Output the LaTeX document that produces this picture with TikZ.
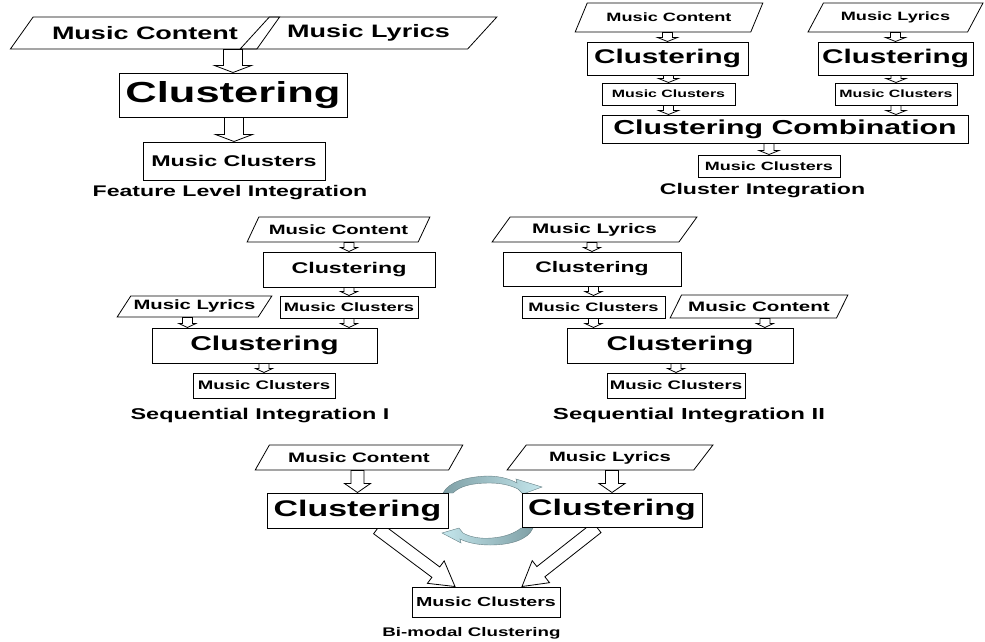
\documentclass[tikz,border=0pt]{standalone}
\usepackage{fontspec}
\setmainfont{Liberation Sans}[FakeStretch=1.5]
\usetikzlibrary{shapes.geometric,calc,backgrounds}
\definecolor{cycdark}{HTML}{7FA0A6}
\definecolor{cyclight}{HTML}{C4E6EC}
\tikzset{
  txt/.style={font=\fontsize{#1}{#1}\selectfont\bfseries},
  box/.style={draw, rectangle, fill=white, inner sep=0pt, line width=1pt},
  inp/.style={draw, trapezium, trapezium left angle=44, trapezium right angle=136,
    trapezium stretches=true, inner sep=0pt, line width=0.8pt},
  capt/.style={inner sep=0pt}
}
\newcommand{\blockarrow}[5]{%
  \coordinate (ba-s) at (#1);
  \coordinate (ba-e) at (#2);
  \coordinate (ba-h) at ($(ba-e)!#5!(ba-s)$);
  \draw[fill=white, line width=0.8pt]
    ($(ba-s)!#3!90:(ba-e)$) -- ($(ba-h)!#3!90:(ba-e)$) -- ($(ba-h)!#4!90:(ba-e)$)
    -- (ba-e) -- ($(ba-h)!#4!-90:(ba-e)$) -- ($(ba-h)!#3!-90:(ba-e)$)
    -- ($(ba-s)!#3!-90:(ba-e)$) -- cycle;}

\begin{document}
\begin{tikzpicture}[x=1pt, y=-1pt]
\useasboundingbox (0,0) rectangle (985,641);

\node[inp, trapezium left angle=35, trapezium right angle=145, minimum width=270pt, minimum height=32pt, txt=18] (con1) at (145,33) {Music Content};
\node[inp, trapezium left angle=35, trapezium right angle=145, minimum width=257pt, minimum height=32pt, txt=18] (lyr1) at (368.5,33) {Music Lyrics};
\node[box, minimum width=228pt, minimum height=44pt, txt=29] (cl1) at (233,95) {Clustering};
\node[box, minimum width=182pt, minimum height=38pt, txt=15.5] (mc1) at (234,161) {Music Clusters};
\node[capt, txt=15.4] (cap1) at (230,193) {Feature Level Integration};
\blockarrow{con1.south -| cl1.north}{cl1.north}{9.5pt}{18.5pt}{7pt}
\blockarrow{cl1.south -| mc1.north}{mc1.north}{9.5pt}{18.5pt}{7pt}

\node[inp, minimum width=188pt, minimum height=29pt, txt=12.1] (conA) at (669,17.5) {Music Content};
\node[inp, minimum width=175pt, minimum height=29pt, txt=12.1] (lyrB) at (895.5,17.5) {Music Lyrics};
\node[box, minimum width=161pt, minimum height=33pt, txt=19.8] (clA) at (667.5,58.5) {Clustering};
\node[box, minimum width=155pt, minimum height=33pt, txt=19.8] (clB) at (895.5,58.5) {Clustering};
\node[box, minimum width=133pt, minimum height=22pt, txt=10.6] (mcA) at (668.5,94) {Music Clusters};
\node[box, minimum width=122pt, minimum height=22pt, txt=10.6] (mcB) at (896,94) {Music Clusters};
\node[box, minimum width=366pt, minimum height=28pt, txt=20.2] (comb) at (785,129) {Clustering Combination};
\node[box, minimum width=142pt, minimum height=22pt, txt=12] (mcC) at (769,166) {Music Clusters};
\node[capt, txt=15.4] (cap2) at (762.5,191) {Cluster Integration};
\blockarrow{conA.south -| clA.north}{clA.north}{5pt}{10pt}{4pt}
\blockarrow{clA.south -| mcA.north}{mcA.north}{5pt}{10pt}{4pt}
\blockarrow{mcA.south}{mcA.south |- comb.north}{5pt}{10pt}{4pt}
\blockarrow{lyrB.south -| clB.north}{clB.north}{5pt}{10pt}{4pt}
\blockarrow{clB.south -| mcB.north}{mcB.north}{5pt}{10pt}{4pt}
\blockarrow{mcB.south}{mcB.south |- comb.north}{5pt}{10pt}{4pt}
\blockarrow{comb.south -| mcC.north}{mcC.north}{5pt}{10pt}{4pt}

\node[inp, minimum width=183pt, minimum height=25pt, txt=13.5] (conS) at (338.5,229.5) {Music Content};
\node[box, minimum width=172pt, minimum height=35pt, txt=15.5] (clS) at (349,269.5) {Clustering};
\node[box, minimum width=138pt, minimum height=22pt, txt=12.2] (mcS) at (349,307) {Music Clusters};
\node[inp, minimum width=155pt, minimum height=21pt, txt=13.5] (lyrS) at (194.5,306.5) {Music Lyrics};
\node[box, minimum width=225pt, minimum height=35pt, txt=20] (clT) at (264.5,345.5) {Clustering};
\node[box, minimum width=142pt, minimum height=25pt, txt=12.4] (mcT) at (264,385.5) {Music Clusters};
\node[capt, txt=15.6] (cap3) at (260,415) {Sequential Integration I};
\blockarrow{conS.south -| clS.north}{clS.north}{5pt}{8.5pt}{4pt}
\blockarrow{clS.south -| mcS.north}{mcS.north}{5pt}{8.5pt}{4pt}
\blockarrow{lyrS.south -| lyrS.bottom side}{lyrS.bottom side |- clT.north}{5pt}{8.5pt}{4pt}
\blockarrow{mcS.south}{mcS.south |- clT.north}{5pt}{8.5pt}{4pt}
\blockarrow{clT.south -| mcT.north}{mcT.north}{5pt}{8.5pt}{4pt}

\node[inp, minimum width=205pt, minimum height=25pt, txt=13.8] (lyrU) at (594.5,229.5) {Music Lyrics};
\node[box, minimum width=178pt, minimum height=34pt, txt=15.3] (clU) at (592,269) {Clustering};
\node[box, minimum width=143pt, minimum height=22pt, txt=12.2] (mcU) at (593.5,307) {Music Clusters};
\node[inp, minimum width=178pt, minimum height=23pt, txt=13.7] (conV) at (759,306.5) {Music Content};
\node[box, minimum width=226pt, minimum height=35pt, txt=19.8] (clV) at (680,345.5) {Clustering};
\node[box, minimum width=138pt, minimum height=25pt, txt=12.4] (mcV) at (676,385.5) {Music Clusters};
\node[capt, txt=16] (cap4) at (689,415) {Sequential Integration II};
\blockarrow{lyrU.south -| clU.north}{clU.north}{5pt}{8.5pt}{4pt}
\blockarrow{clU.south -| mcU.north}{mcU.north}{5pt}{8.5pt}{4pt}
\blockarrow{mcU.south}{mcU.south |- clV.north}{5pt}{8.5pt}{4pt}
\blockarrow{conV.south -| conV.top side}{conV.top side |- clV.north}{5pt}{8.5pt}{4pt}
\blockarrow{clV.south -| mcV.north}{mcV.north}{5pt}{8.5pt}{4pt}

\node[inp, trapezium left angle=42, trapezium right angle=138, minimum width=208pt, minimum height=25pt, txt=13.7] (conL) at (359,457.5) {Music Content};
\node[inp, trapezium left angle=42, trapezium right angle=138, minimum width=206pt, minimum height=25pt, txt=13.5] (lyrR) at (610,457.5) {Music Lyrics};
\node[box, minimum width=181pt, minimum height=35pt, txt=22.6] (clL) at (357.5,510.5) {Clustering};
\node[box, minimum width=180pt, minimum height=34pt, txt=22.6] (clR) at (612,510) {Clustering};
\node[box, minimum width=148pt, minimum height=30pt, txt=13.1] (mcM) at (486,602) {Music Clusters};
\node[capt, txt=12.5] (cap5) at (471.5,633) {Bi-modal Clustering};
\blockarrow{conL.south -| clL.north}{clL.north}{6.5pt}{13pt}{9pt}
\blockarrow{lyrR.south -| clR.north}{clR.north}{6.5pt}{13pt}{9pt}
\coordinate (dl) at ($(clL.south)+(20,0)$);
\coordinate (dr) at ($(clR.south)+(-15,0)$);
\begin{scope}[on background layer]
\blockarrow{dl}{$(mcM.north)+(-31,0)$}{6.5pt}{14pt}{24pt}
\blockarrow{dr}{$(mcM.north)+(36,0)$}{6.5pt}{14pt}{24pt}
\path[shade, left color=cycdark, right color=cyclight, draw=cycdark!80!black, line width=0.4pt]
  (443,493) .. controls (449,482) and (465,477) .. (487,476)
  .. controls (500,476) and (510,479) .. (517,483) -- (516,479) -- (542,487)
  -- (523,494) -- (518,489) .. controls (510,485) and (500,483) .. (490,483)
  .. controls (472,483) and (460,486) .. (453,493) -- cycle;
\path[shade, left color=cyclight, right color=cycdark, draw=cycdark!80!black, line width=0.4pt]
  (533,528) .. controls (528,540) and (510,545) .. (490,545)
  .. controls (476,545) and (466,542) .. (460,539) -- (461,543) -- (442,533)
  -- (459,528) -- (463,533) .. controls (470,537) and (480,539) .. (492,538)
  .. controls (505,537) and (515,533) .. (521,528) -- cycle;
\end{scope}
\end{tikzpicture}
\end{document}
